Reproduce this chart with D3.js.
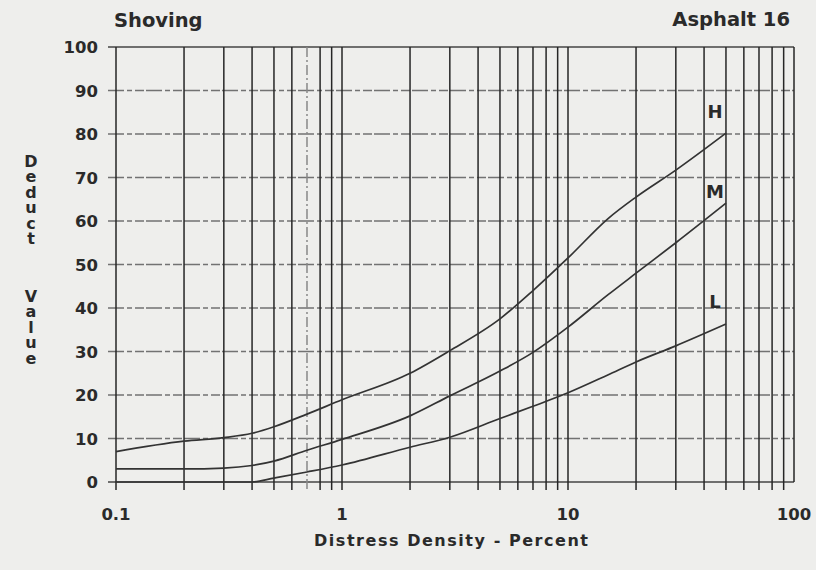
<!DOCTYPE html>
<html>
<head>
<meta charset="utf-8">
<script src="https://cdn.jsdelivr.net/npm/d3@7/dist/d3.min.js"></script>
<style>
  html, body { margin: 0; padding: 0; background: #eeeeec; }
  svg { display: block; }
  text { font-family: "DejaVu Sans", "Liberation Sans", Arial, sans-serif; font-weight: bold; fill: #2a2a2a; }
  .vertical { writing-mode: vertical-rl; text-orientation: upright; }
</style>
</head>
<body>
<svg id="chart" width="816" height="570"></svg>
<script>
// Shoving deduct-value curves (asphalt), by severity level
const density = [0.1, 0.2, 0.3, 0.4, 0.5, 0.7, 1, 2, 3, 5, 7, 10, 15, 20, 30, 50];
const high    = [7, 9.4, 10.2, 11.2, 12.7, 15.6, 18.9, 25, 30.2, 37.5, 44, 51.5, 60.5, 65.5, 71.7, 80.2];
const medium  = [3, 3, 3.2, 3.8, 4.8, 7.3, 9.8, 15.2, 19.8, 25.5, 29.8, 35.6, 43, 48, 55, 64.1];
const low     = [0, 0, 0, 0, 0.9, 2.3, 3.9, 8, 10.3, 14.6, 17.4, 20.5, 24.6, 27.6, 31.3, 36.3];
const severityLabels = ["H", "M", "L"];
const xTickLabels = [0.1, 1, 10, 100];
const yTicks = [0, 10, 20, 30, 40, 50, 60, 70, 80, 90, 100];
const yTitleWords = ["Deduct", "Value"];

const svg = d3.select("#chart");

const x = d3.scaleLog().domain([0.1, 100]).range([116, 794]);
const y = d3.scaleLinear().domain([0, 100]).range([482, 47]);

// vertical log grid: 1..9 in each decade, plus the 100 border
const vLines = [];
[0.1, 1, 10].forEach(dec => { for (let k = 1; k <= 9; k++) vLines.push(+(dec * k).toPrecision(3)); });
vLines.push(100);

const grid = svg.append("g");

// horizontal grid (broken print lines)
grid.selectAll("line.h").data(yTicks).join("line")
  .attr("class", "h")
  .attr("x1", 108).attr("x2", x(100))
  .attr("y1", d => y(d)).attr("y2", d => y(d))
  .attr("stroke", d => d === 0 || d === 100 ? "#444" : "#727272")
  .attr("stroke-width", 1.3)
  .attr("stroke-dasharray", d => d === 0 || d === 100 ? null : "16,3,5,3,9,2");

grid.selectAll("line.v").data(vLines).join("line")
  .attr("class", "v")
  .attr("x1", d => x(d)).attr("x2", d => x(d))
  .attr("y1", y(100)).attr("y2", d => d === 100 ? y(0) : 490)
  .attr("stroke", d => d === 0.7 ? "#888" : "#262626")
  .attr("stroke-width", 1.5)
  .attr("stroke-dasharray", d => d === 0.7 ? "10,3,2,3" : null);

// y tick labels
svg.append("g").selectAll("text").data(yTicks).join("text")
  .attr("x", 98).attr("y", d => y(d) + 6)
  .attr("text-anchor", "end")
  .attr("font-size", 16.5)
  .text(d => d);

// x tick labels
svg.append("g").selectAll("text").data(xTickLabels).join("text")
  .attr("x", d => x(d)).attr("y", 520)
  .attr("text-anchor", "middle")
  .attr("font-size", 16.5)
  .text(d => d);

// axis titles
svg.append("text")
  .attr("x", 451).attr("y", 546)
  .attr("text-anchor", "middle")
  .attr("font-size", 16)
  .attr("textLength", 274)
  .attr("lengthAdjust", "spacing")
  .text("Distress Density - Percent");

// stacked (upright vertical) y title, one word per text
svg.append("g").selectAll("text").data(yTitleWords).join("text")
  .attr("class", "vertical")
  .attr("x", 31)
  .attr("y", (d, i) => [152, 287][i])
  .attr("font-size", 16)
  .attr("letter-spacing", -3.6)
  .text(d => d);

svg.append("text")
  .attr("x", 114).attr("y", 27)
  .attr("font-size", 19.5)
  .attr("fill", "#3a3a3a")
  .text("Shoving");

svg.append("text")
  .attr("x", 790).attr("y", 26)
  .attr("text-anchor", "end")
  .attr("font-size", 19.5)
  .attr("fill", "#3a3a3a")
  .text("Asphalt 16");

// severity curves
const series = [high, medium, low];
const line = d3.line()
  .x((d, i) => x(density[i]))
  .y(d => y(d))
  .curve(d3.curveMonotoneX);

svg.append("g").selectAll("path").data(series).join("path")
  .attr("d", d => line(d))
  .attr("fill", "none")
  .attr("stroke", "#333")
  .attr("stroke-width", 1.7);

// severity labels above the curve ends
const labelOffset = [15, 5, 16];
svg.append("g").selectAll("text").data(series).join("text")
  .attr("x", x(50) - 11)
  .attr("y", (d, i) => y(d[d.length - 1]) - labelOffset[i])
  .attr("text-anchor", "middle")
  .attr("font-size", 18)
  .text((d, i) => severityLabels[i]);
</script>
</body>
</html>
